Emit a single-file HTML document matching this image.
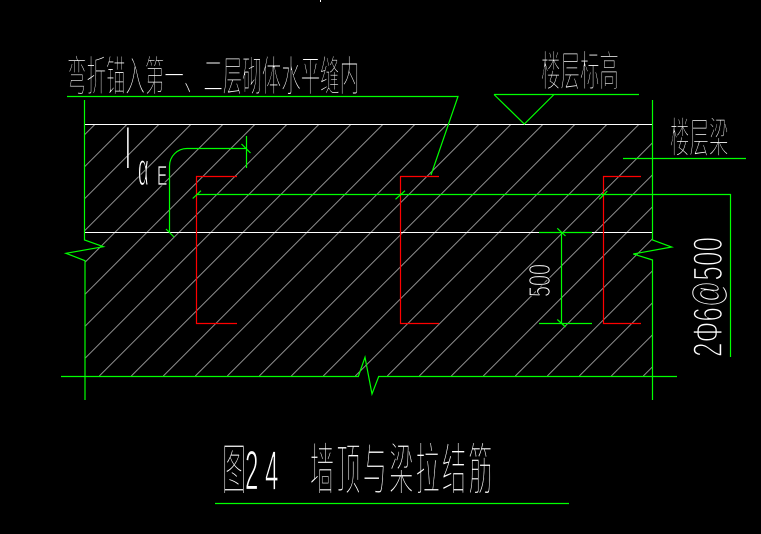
<!DOCTYPE html>
<html><head><meta charset="utf-8">
<style>html,body{margin:0;padding:0;background:#000;}svg{display:block}</style>
</head><body>
<svg width="761" height="534" viewBox="0 0 761 534" xmlns="http://www.w3.org/2000/svg">
<defs>
<clipPath id="hc"><rect x="85" y="125" width="567" height="251"/></clipPath>
</defs>
<rect width="761" height="534" fill="#000"/>
<!-- hatch -->
<path clip-path="url(#hc)" stroke="#8f8f8f" stroke-width="1" fill="none" d="
M-156.7 376L95.3 124 M-124.7 376L127.3 124 M-92.7 376L159.3 124 M-60.7 376L191.3 124
M-28.7 376L223.3 124 M3.3 376L255.3 124 M35.3 376L287.3 124 M67.3 376L319.3 124
M99.3 376L351.3 124 M131.3 376L383.3 124 M163.3 376L415.3 124 M195.3 376L447.3 124
M227.3 376L479.3 124 M259.3 376L511.3 124 M291.3 376L543.3 124 M323.3 376L575.3 124
M355.3 376L607.3 124 M387.3 376L639.3 124 M419.3 376L671.3 124 M451.3 376L703.3 124
M483.3 376L735.3 124 M515.3 376L767.3 124 M547.3 376L799.3 124 M579.3 376L831.3 124
M611.3 376L863.3 124 M643.3 376L895.3 124"/>
<!-- white lines -->
<g stroke="#fff" stroke-width="1" fill="none">
<line x1="85" y1="124.5" x2="652" y2="124.5"/>
<line x1="85" y1="232.5" x2="652" y2="232.5"/>
<line x1="320.5" y1="0" x2="320.5" y2="2"/>
</g>
<!-- red rebars -->
<g stroke="#ff0000" stroke-width="1.2" fill="none">
<path d="M237 176.5H196.5V323.5H237"/>
<path d="M439 176.5H400.5V323.5H439"/>
<path d="M641 176.5H603.5V323.5H641"/>
</g>
<!-- green lines -->
<g stroke="#00ff00" stroke-width="1.2" fill="none">
<path d="M67 96.5H458L431 175"/>
<path d="M84.5 100V240L103.3 246.7L66 253.3L85 260.7V400"/>
<path d="M652.5 100V240L671.7 247L633.3 254L652.5 260V400"/>
<path d="M61 376.5H358.3L365 357.3L372 394L378.7 376.5H677"/>
<path d="M169.5 232V166A17.5 17.5 0 0 1 187 148.5H246.5"/>
<line x1="246.5" y1="136" x2="246.5" y2="168"/>
<line x1="241.5" y1="144" x2="250.5" y2="153"/>
<line x1="166" y1="229" x2="174" y2="237"/>
<path d="M196.5 194.5H730.5V357"/>
<line x1="192.7" y1="198.5" x2="201" y2="190.7"/>
<line x1="395.5" y1="199.3" x2="405" y2="190.7"/>
<line x1="599.3" y1="199.3" x2="607.3" y2="191"/>
<line x1="539" y1="232.5" x2="592" y2="232.5"/>
<line x1="539" y1="323.5" x2="592" y2="323.5"/>
<line x1="561.5" y1="232.5" x2="561.5" y2="323.5"/>
<line x1="557.3" y1="228.3" x2="565.5" y2="236"/>
<line x1="557.3" y1="319.5" x2="565.5" y2="327"/>
<path d="M494 94.5H639"/>
<path d="M494 94.5L524.3 124L554 94.5"/>
<path d="M623 158.5H746"/>
<path d="M215 503.5H569"/>
</g>
<!-- texts -->
<g fill="#fff" stroke="#000" stroke-width="1.1" font-family="'Liberation Sans','Noto Sans CJK SC',sans-serif" font-weight="300">
<text transform="translate(67,91) scale(0.464,1)" font-size="42">弯折锚入第一、二层砌体水平缝内</text>
<text transform="translate(541,86) scale(0.464,1)" font-size="42">楼层标高</text>
<text transform="translate(670,152.5) scale(0.464,1)" font-size="42">楼层梁</text>
<text transform="translate(0,489.5) scale(0.43,1)" font-size="56" stroke-width="1.3"><tspan x="516.3">图</tspan><tspan x="569.8">2</tspan><tspan x="616.3">4</tspan><tspan x="720.9">墙</tspan><tspan x="782.3">顶</tspan><tspan x="843.7">与</tspan><tspan x="905.1">梁</tspan><tspan x="966.5">拉</tspan><tspan x="1027.9">结</tspan><tspan x="1089.3">筋</tspan></text>
</g>
<g fill="#fff" stroke="#000" stroke-width="1.2" font-family="'Liberation Sans',sans-serif">
<text transform="translate(126,168) scale(0.3,1)" font-size="56" stroke-width="0">l</text>
<text transform="translate(138,185) scale(0.4,1)" font-size="46">α</text>
<text transform="translate(157,185) scale(0.55,1)" font-size="28" stroke-width="0.8">E</text>
<text transform="translate(550,297) rotate(-90) scale(0.65,1)" font-size="30.5">500</text>
<text transform="translate(722,357) rotate(-90)" font-size="42" stroke-width="1.6" textLength="120" lengthAdjust="spacingAndGlyphs">2Φ6@500</text>
</g>
</svg>
</body></html>
